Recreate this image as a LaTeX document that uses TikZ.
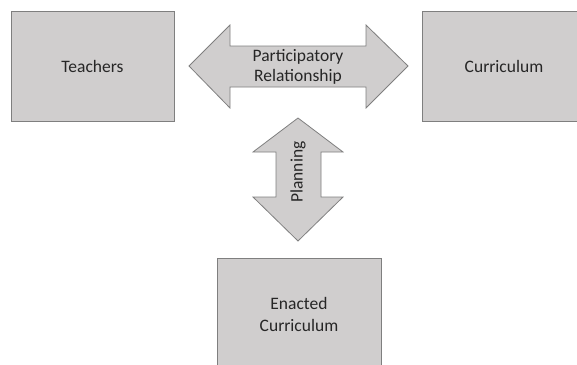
\documentclass[tikz,border=0pt]{standalone}
\usepackage{fontspec}
\setmainfont{Carlito}
\definecolor{boxfill}{HTML}{D0CECE}
\definecolor{boxline}{HTML}{7F7F7F}
\begin{document}
\begin{tikzpicture}[x=1pt,y=-1pt,
    panel/.style={draw=boxline, fill=boxfill, line width=0.8pt},
    label/.style={font=\fontsize{17.5}{22}\selectfont, align=center, text=black!85}]
            \useasboundingbox (0,0) rectangle (577,364);
            \filldraw[panel] (11,11) rectangle (174,121);
            \filldraw[panel] (422,11) rectangle (586,121);
            \filldraw[panel] (217,258) rectangle (381,372);
            \node[label] (teachers) at (92.5,66) {Teachers};
            \node[label] (curriculum) at (504,66) {Curriculum};
            \node[label] (enacted) at (299,314) {Enacted\\Curriculum};
            \filldraw[panel] (189,66) -- (230,25) -- (230,46) -- (366,46) -- (366,25) -- (408,66)
                -- (366,108) -- (366,87) -- (230,87) -- (230,108) -- cycle;
            \filldraw[panel] (298,118) -- (343,152) -- (321,152) -- (321,197) -- (343,197) -- (298,241)
                -- (253,197) -- (276,197) -- (276,152) -- (253,152) -- cycle;
            \node[label, text width=150pt] (relation) at (298,67) {Participatory\\[-2pt]Relationship};
            \node[label, rotate=90] (planning) at (298,172) {Planning};
        \end{tikzpicture}
\end{document}
